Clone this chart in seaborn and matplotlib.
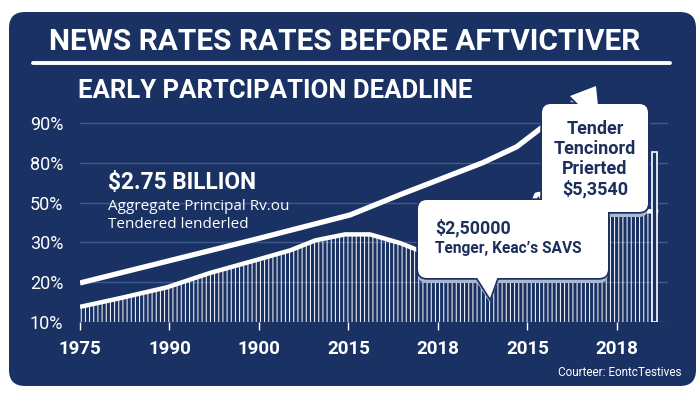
import matplotlib
matplotlib.use("Agg")
import matplotlib.pyplot as plt
import matplotlib.transforms as mtransforms
from matplotlib.patches import FancyBboxPatch, Polygon
from matplotlib.lines import Line2D
import seaborn as sns
import pandas as pd

# ---- values ----
x_labels = ["1975", "1990", "1900", "2015", "2018", "2015", "2018"]
y_labels = ["10%", "20%", "30%", "50%", "80%", "90%"]

# upper white line (x in tick slots, y in grid steps)
line_x = [0, 1, 2, 3.02, 3.58, 4.5, 4.88, 5.17, 5.53]
line_y = [0.98, 1.54, 2.1, 2.69, 3.2, 4.0, 4.4, 4.9, 5.45]

# top of the striped bar area
area_x = [0, 0.45, 0.97, 1.45, 1.96, 2.35, 2.63, 2.96, 3.24, 3.58, 3.78,
          4.13, 4.69, 4.97, 5.1, 5.36, 5.81, 6.46]
area_y = [0.38, 0.6, 0.87, 1.23, 1.55, 1.8, 2.05, 2.2, 2.2, 1.98, 1.8,
          1.5, 1.6, 2.5, 3.2, 3.3, 2.9, 2.76]

last_bar_x = [6.42]
last_bar_h = [4.27]

NAVY = "#1a3263"
GRID = "#3e5a8c"
SHADOW = "#a9b7cf"
TEXT_DARK = "#1c2f5c"

sns.set_theme(style="dark")
plt.rcParams["font.family"] = ["Roboto", "DejaVu Sans"]
plt.rcParams["hatch.linewidth"] = 0.7

W, H = 700, 393
fig = plt.figure(figsize=(W / 100, H / 100), dpi=100)
fig.patch.set_facecolor("white")

# pixel coords measured from top-left of the image
pix = mtransforms.Affine2D().scale(1, -1).translate(0, H)


def fx(px):
    return px / W


def fy(py):
    return 1 - py / H


panel = FancyBboxPatch((9, 12), 687, 374, boxstyle="round,pad=0,rounding_size=16",
                       facecolor=NAVY, edgecolor="none", transform=pix, zorder=-1)
fig.add_artist(panel)

ax = fig.add_axes([80 / W, 71 / H, 588 / W, 223 / H])
ax.set_facecolor("none")
for s in ax.spines.values():
    s.set_visible(False)

line_df = pd.DataFrame({"x": line_x, "y": line_y})
area_df = pd.DataFrame({"x": area_x, "y": area_y})

# striped area (dense vertical bars)
ax.fill_between(area_df["x"], 0, area_df["y"], facecolor="none", edgecolor="white",
                linewidth=0, hatch="||||", zorder=2)
sns.lineplot(data=area_df, x="x", y="y", color="white", linewidth=3.2, ax=ax,
             zorder=3, solid_capstyle="butt")
ax.bar(last_bar_x, last_bar_h, width=0.05, color=NAVY, edgecolor="white",
       linewidth=1.2, zorder=3)

sns.lineplot(data=line_df, x="x", y="y", color="white", linewidth=3.8, ax=ax,
             zorder=4, solid_capstyle="butt")

ax.set_xlim(0, 6.57)
ax.set_ylim(0, 5.6)
ax.set_yticks(range(len(y_labels)))
ax.set_yticklabels(y_labels)
ax.set_xticks(range(len(x_labels)))
ax.set_xticklabels(x_labels)
ax.grid(False)
for i in range(len(y_labels)):
    ax.axhline(i, color=GRID, linewidth=1, zorder=1)
ax.tick_params(axis="y", length=0, pad=12, labelsize=13, labelcolor="white")
ax.tick_params(axis="x", length=6, width=1, color="white", pad=7, labelsize=13.5,
               labelcolor="white", bottom=True)
for lab in ax.get_xticklabels():
    lab.set_fontweight("bold")
ax.set_xlabel("")
ax.set_ylabel("")

# ---- headings ----
fig.text(fx(345), fy(42), "NEWS RATES RATES BEFORE AFTVICTIVER", ha="center",
         va="center", color="white", fontsize=21.5, fontweight="bold")
fig.add_artist(Line2D([33, 670], [63, 63], transform=pix, color="white", linewidth=2.8))
fig.text(fx(78), fy(91), "EARLY PARTCIPATION DEADLINE", ha="left", va="center",
         color="white", fontsize=18.5, fontweight="bold")

fig.text(fx(108), fy(182), "$2.75 BILLION", ha="left", va="center", color="white",
         fontsize=16.3, fontweight="bold")
fig.text(fx(108), fy(207), "Aggregate Principal Rv.ou", ha="left", va="center",
         color="white", fontsize=11, family=["Open Sans", "DejaVu Sans"])
fig.text(fx(108), fy(224), "Tendered lenderled", ha="left", va="center",
         color="white", fontsize=11, family=["Open Sans", "DejaVu Sans"])

fig.text(fx(682), fy(373), "Courteer: EontcTestives", ha="right", va="center",
         color="white", fontsize=8.5)


# ---- callouts ----
def callout(box, tri, extra=None):
    x0, y0, x1, y1 = box
    for dx, dy, fc, ec, lw, z in [(0, 5, SHADOW, "none", 0, 5),
                                  (0, 0, NAVY, NAVY, 2.5, 6),
                                  (0, 0, "white", "none", 0, 7)]:
        r = FancyBboxPatch((x0 + dx, y0 + dy), x1 - x0, y1 - y0,
                           boxstyle="round,pad=0,rounding_size=9", facecolor=fc,
                           edgecolor=ec, linewidth=lw, transform=pix, zorder=z)
        fig.add_artist(r)
        polys = [tri] + ([extra] if extra else [])
        for p in polys:
            pp = Polygon([(a + dx, b + dy) for a, b in p], closed=True, facecolor=fc,
                         edgecolor=ec, linewidth=lw, transform=pix, zorder=z)
            fig.add_artist(pp)


callout((418, 200, 608, 278), [(476, 276), (498, 276), (490, 298)])
fig.text(fx(435), fy(228), "$2,50000", ha="left", va="center", color=TEXT_DARK,
         fontsize=12.8, fontweight="bold", zorder=8)
fig.text(fx(435), fy(248), "Tenger, Keac\u2019s SAVS", ha="left", va="center",
         color=TEXT_DARK, fontsize=11.2, fontweight="bold", zorder=8)

callout((542, 104, 648, 212), [(578, 210), (608, 210), (592, 228)],
        extra=[(570, 96), (596, 86), (598, 106), (580, 106)])
for txt, yy in zip(["Tender", "Tencinord", "Prierted", "$5,3540"], [129, 149, 169, 189]):
    fig.text(fx(595), fy(yy), txt, ha="center", va="center", color=TEXT_DARK,
             fontsize=13, fontweight="bold", zorder=8)

fig.savefig("out.png", dpi=100)
